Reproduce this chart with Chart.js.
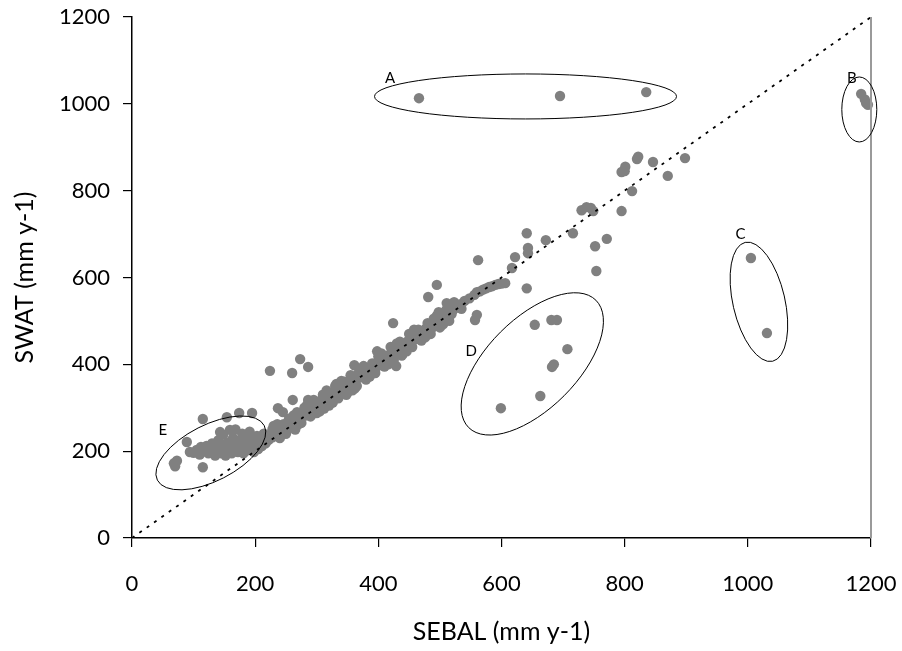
<!DOCTYPE html>
<html>
<head>
<meta charset="utf-8">
<script src="https://cdn.jsdelivr.net/npm/chart.js@4"></script>
<style>
  html, body { margin: 0; padding: 0; background: #fff; }
  canvas { display: block; }
</style>
</head>
<body>
<canvas id="c" width="902" height="651"></canvas>
<script>
// ---- data (SEBAL x, SWAT y), mm per year ----
const tickValues = [0, 200, 400, 600, 800, 1000, 1200];

const groupE = [[68,172],[70,165],[73,178],[89,221],[94,198],[100,196],[105,203],[110,192],[112,210],[115,163],[115,274],[118,200],[121,212],[124,195],[127,205],[130,218],[133,198],[135,190],[138,210],[140,225],[142,200],[143,244],[145,195],[147,215],[148,238],[150,205],[152,190],[154,278],[155,220],[157,200],[159,249],[160,212],[162,195],[164,230],[166,205],[168,250],[170,215],[172,198],[174,288],[175,225],[177,205],[179,240],[181,195],[183,215],[185,232],[187,202],[189,220],[191,245],[193,208],[195,288],[196,228],[198,198],[200,218],[203,235],[205,205],[208,222],[211,212],[214,240],[217,218],[220,228]];

const groupBand = [[222,226],[225,238],[228,232],[231,242],[234,236],[237,248],[240,244],[243,252],[246,246],[249,258],[252,262],[255,255],[258,266],[261,270],[264,262],[267,275],[270,280],[273,272],[276,286],[279,290],[282,282],[285,294],[288,300],[291,292],[294,304],[297,308],[300,300],[303,312],[306,316],[309,308],[312,320],[315,326],[318,318],[321,330],[324,334],[327,326],[330,338],[333,342],[336,334],[339,346],[342,350],[345,344],[348,354],[351,360],[354,352],[357,364],[360,368],[363,360],[366,372],[369,378],[372,370],[375,382],[378,386],[381,378],[384,390],[387,394],[390,386],[393,398],[396,402],[399,396],[402,408],[405,412],[408,404],[411,416],[414,420],[417,414],[420,424],[423,430],[426,422],[429,434],[432,438],[435,432],[438,442],[441,446],[444,440],[447,452],[450,456],[453,450],[456,460],[459,464],[462,458],[465,468],[468,472],[471,466],[474,478],[477,482],[480,476],[483,488],[486,492],[489,486],[492,496],[495,500],[498,494],[501,504],[504,510],[507,514],[510,508],[513,518],[516,522],[519,516],[522,526],[525,530],[528,534],[532,538],[540,546],[548,552],[556,560],[560,566],[565,568],[570,572],[575,575],[580,578],[585,580],[590,583],[595,585],[600,586],[606,587]];

const groupBandSpread = [[230,258],[240,230],[250,240],[255,275],[265,250],[275,265],[280,300],[290,280],[295,318],[305,292],[310,330],[320,305],[330,350],[335,322],[345,360],[350,335],[355,375],[365,350],[370,390],[380,365],[390,402],[395,380],[405,425],[410,395],[420,440],[425,410],[435,452],[440,425],[450,470],[455,440],[465,480],[470,455],[480,495],[485,470],[495,512],[500,485],[510,525],[515,500],[228,250],[246,262],[262,282],[270,262],[284,306],[300,288],[316,340],[326,312],[340,362],[358,340],[376,396],[386,372],[400,418],[416,400],[430,448],[446,430],[460,474],[476,462],[490,505],[505,492],[520,532],[535,528],[236,262],[252,248],[268,290],[292,312],[312,298],[332,355],[348,330],[368,380],[398,430],[438,420],[458,480],[498,520]];

const groupScatter = [[224,385],[260,380],[273,412],[286,394],[237,299],[261,318],[286,318],[245,290],[361,398],[362,345],[383,371],[424,495],[429,396],[481,555],[495,583],[511,541],[523,543],[557,502],[560,514],[562,640],[641,575]];

const groupUpper = [[617,622],[622,647],[643,656],[643,668],[641,702],[672,686],[716,702],[730,755],[738,762],[745,760],[749,753],[795,753],[812,799],[795,843],[800,845],[801,855],[820,873],[822,878],[846,866],[870,834],[898,875],[752,672],[771,689],[754,615]];

const groupA = [[466,1013],[695,1018],[835,1027]];
const groupB = [[1184,1023],[1192,1002],[1190,1010],[1195,998]];
const groupC = [[1005,645],[1031,472]];
const groupD = [[654,491],[681,502],[690,502],[707,435],[682,394],[685,400],[663,327],[599,299]];

const oneToOne = [[0,0],[1200,1200]];

// ellipse annotations: centre in data units, radii in px, rotation in degrees
const ellipseNotes = [
  { label: 'A', cx: 639, cy: 1017, rx: 151, ry: 22.5, rot: 0, lx: 419, ly: 1059 },
  { label: 'B', cx: 1181, cy: 987, rx: 17.5, ry: 32.5, rot: 0, lx: 1169, ly: 1059 },
  { label: 'C', cx: 1018, cy: 544, rx: 26, ry: 61, rot: -13, lx: 988, ly: 700 },
  { label: 'D', cx: 650, cy: 401, rx: 90, ry: 45, rot: -45, lx: 551, ly: 431 },
  { label: 'E', cx: 128, cy: 196, rx: 60, ry: 28, rot: -27, lx: 50, ly: 249 }
];

const toXY = a => a.map(p => ({ x: p[0], y: p[1] }));
const allPoints = [].concat(groupE, groupBand, groupBandSpread, groupScatter, groupUpper, groupA, groupB, groupC, groupD);

const FONT = "Lato, 'Open Sans', sans-serif";

const annotPlugin = {
  id: 'annot',
  afterDatasetsDraw(chart) {
    const ctx = chart.ctx;
    const xs = chart.scales.x, ys = chart.scales.y;
    const ca = chart.chartArea;
    ctx.save();
    // right frame line
    ctx.strokeStyle = '#9a9a9a';
    ctx.lineWidth = 2;
    ctx.beginPath();
    ctx.moveTo(ca.right, ca.top);
    ctx.lineTo(ca.right, ca.bottom);
    ctx.stroke();
    // ellipses
    ctx.strokeStyle = '#000';
    ctx.lineWidth = 1;
    ctx.fillStyle = '#000';
    ctx.font = "15px " + FONT;
    ctx.textAlign = 'center';
    ctx.textBaseline = 'middle';
    ellipseNotes.forEach(e => {
      const px = xs.getPixelForValue(e.cx), py = ys.getPixelForValue(e.cy);
      ctx.beginPath();
      ctx.ellipse(px, py, e.rx, e.ry, e.rot * Math.PI / 180, 0, Math.PI * 2);
      ctx.stroke();
      ctx.fillText(e.label, xs.getPixelForValue(e.lx), ys.getPixelForValue(e.ly));
    });
    ctx.restore();
  }
};

new Chart(document.getElementById('c'), {
  type: 'scatter',
  data: {
    datasets: [
      {
        data: toXY(allPoints),
        backgroundColor: '#808080',
        borderWidth: 0,
        pointRadius: 5.2,
        pointHoverRadius: 5.2,
        clip: false,
        order: 2
      },
      {
        type: 'line',
        data: toXY(oneToOne),
        borderColor: '#000',
        borderWidth: 1.8,
        borderDash: [3, 6],
        pointRadius: 0,
        fill: false,
        order: 1
      }
    ]
  },
  options: {
    responsive: false,
    devicePixelRatio: 1,
    animation: false,
    layout: { padding: { top: 17, right: 31, left: 0, bottom: 0 } },
    plugins: { legend: { display: false }, tooltip: { enabled: false } },
    scales: {
      x: {
        type: 'linear',
        min: 0, max: 1200,
        afterBuildTicks: s => { s.ticks = tickValues.map(v => ({ value: v })); },
        afterFit: s => { s.height = 113; s.paddingLeft = 0; s.paddingRight = 0; },
        grid: { drawOnChartArea: false, drawTicks: true, tickLength: 9, color: '#000', lineWidth: 1.2 },
        border: { display: true, color: '#000', width: 1.5 },
        ticks: { color: '#000', font: { family: FONT, size: 22 }, padding: 24, maxRotation: 0, callback: v => String(v) },
        title: { display: true, text: 'SEBAL (mm y-1)', color: '#000', font: { family: FONT, size: 25 }, padding: { bottom: 4, top: 0 } }
      },
      y: {
        type: 'linear',
        min: 0, max: 1200,
        afterBuildTicks: s => { s.ticks = tickValues.map(v => ({ value: v })); },
        afterFit: s => { s.width = 132; s.paddingTop = 0; s.paddingBottom = 0; },
        grid: { drawOnChartArea: false, drawTicks: true, tickLength: 9, color: '#000', lineWidth: 1.2 },
        border: { display: true, color: '#000', width: 1.5 },
        ticks: { color: '#000', font: { family: FONT, size: 22 }, padding: 13, callback: v => String(v) },
        title: { display: true, text: 'SWAT (mm y-1)', color: '#000', font: { family: FONT, size: 25 }, padding: { top: 10, bottom: 0 } }
      }
    }
  },
  plugins: [annotPlugin]
});
</script>
</body>
</html>
